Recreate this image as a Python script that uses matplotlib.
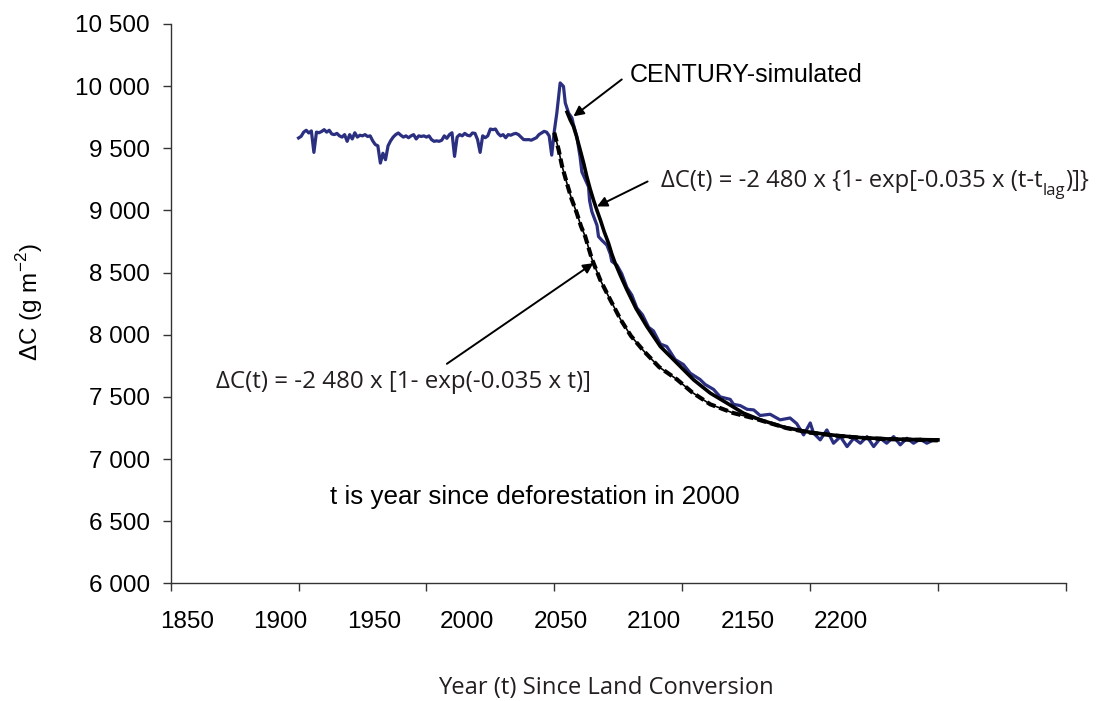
import numpy as np
import matplotlib
matplotlib.use("Agg")
import matplotlib.pyplot as plt
from matplotlib.ticker import MultipleLocator, FuncFormatter

# --------------------------------------------------
# data
# --------------------------------------------------
# CENTURY-simulated carbon, 1900-1999 (annual, pre-conversion)
pre_years = list(range(1900, 2000))
pre_vals = [9583, 9596, 9630, 9645, 9623, 9640, 9467, 9630, 9625, 9635,
            9650, 9630, 9645, 9615, 9610, 9620, 9600, 9590, 9610, 9556,
            9610, 9575, 9625, 9590, 9605, 9600, 9610, 9595, 9600, 9560,
            9530, 9520, 9381, 9460, 9408, 9520, 9560, 9590, 9610, 9623,
            9605, 9590, 9600, 9585, 9600, 9610, 9575, 9600, 9595, 9600,
            9590, 9600, 9570, 9556, 9560, 9556, 9565, 9600, 9580, 9610,
            9625, 9435, 9590, 9610, 9600, 9620, 9605, 9600, 9623, 9620,
            9570, 9467, 9600, 9585, 9600, 9655, 9650, 9655, 9620, 9600,
            9610, 9585, 9610, 9605, 9615, 9620, 9610, 9590, 9570, 9569,
            9570, 9565, 9575, 9585, 9610, 9623, 9636, 9630, 9600, 9445]
# CENTURY-simulated carbon after conversion
post_years = [2000, 2001, 2002.3, 2003.6, 2004.3, 2005.6, 2006.9, 2007.5, 2008.8, 2010.1,
              2010.8, 2012.1, 2013.4, 2013.8, 2014.7, 2016.7, 2017.3, 2018.6, 2020.6, 2021.9,
              2022.5, 2024.5, 2026.4, 2028.4, 2030.3, 2032.3, 2034.5, 2036.9, 2038.8, 2041.5,
              2044.0, 2047.3, 2050.5, 2053.2, 2057.0, 2059.0, 2062.3, 2064.9, 2068.8, 2070.1,
              2072.7, 2075.4, 2078.0, 2080.5, 2084.4, 2088.3, 2092.2, 2094.8, 2097.5, 2100.1,
              2101.4, 2104.0, 2106.6, 2109.2, 2111.9, 2114.5, 2117.1, 2119.7, 2122.3, 2124.9,
              2127.5, 2130.0, 2132.7, 2135.3, 2137.9, 2140.5, 2143.1, 2145.7, 2148.3, 2150.0]
post_vals = [9636, 9784, 10026, 9998, 9865, 9784, 9744, 9690, 9596, 9430,
             9310, 9250, 9190, 9080, 8990, 8880, 8790, 8760, 8720, 8650,
             8590, 8560, 8490, 8380, 8320, 8215, 8160, 8060, 8030, 7925,
             7905, 7800, 7760, 7690, 7640, 7600, 7560, 7500, 7480, 7440,
             7430, 7400, 7395, 7350, 7360, 7315, 7330, 7285, 7194, 7290,
             7208, 7154, 7234, 7127, 7180, 7100, 7167, 7127, 7180, 7100,
             7167, 7127, 7180, 7114, 7167, 7127, 7160, 7127, 7154, 7154]

# fitted curve with lag (solid black)
lag_years = [2005, 2006.2, 2007.5, 2008.7, 2010.1, 2011.5, 2012.7, 2014, 2015.3, 2016.7,
             2018, 2019.5, 2021.2, 2022.5, 2023.8, 2026, 2028.4, 2032, 2036.2, 2041.5,
             2048, 2054.5, 2061, 2067.6, 2074, 2080.6, 2090, 2100, 2110, 2120,
             2130, 2140, 2150]
lag_vals = [9790, 9730, 9676, 9596, 9489, 9380, 9274, 9175, 9086, 9000,
            8925, 8830, 8737, 8650, 8576, 8470, 8361, 8210, 8066, 7905,
            7771, 7637, 7530, 7449, 7369, 7315, 7255, 7215, 7190, 7172,
            7162, 7157, 7154]

# fitted curve without lag (dashed black)
nolag_years = [2000, 2001.7, 2003, 2004.9, 2006.8, 2008.8, 2010.5, 2012.1, 2014.7, 2018,
               2021.9, 2026, 2030, 2034.9, 2041, 2048, 2054, 2061, 2065, 2070,
               2078, 2085, 2091, 2100, 2110, 2120, 2130, 2140, 2150]
nolag_vals = [9625, 9489, 9360, 9221, 9090, 8979, 8870, 8791, 8610, 8440,
              8281, 8120, 7990, 7871, 7740, 7640, 7535, 7440, 7409, 7370,
              7328, 7285, 7248, 7212, 7188, 7170, 7160, 7155, 7150]

xtick_vals = list(range(1850, 2201, 50))

# --------------------------------------------------
# plot
# --------------------------------------------------
W, H = 1096, 701
fig = plt.figure(figsize=(W/100, H/100), dpi=100)
ax = fig.add_axes([170.7/W, 1 - 583.3/H, (1065.7 - 170.7)/W, (583.3 - 24)/H])

blue = '#2b2f80'
txt = '#231f20'
arial = 'Liberation Sans'
myriad = 'Open Sans'

ax.plot(pre_years + post_years, pre_vals + post_vals, color=blue, lw=2.3, zorder=2)
ax.plot(nolag_years, nolag_vals, color='black', lw=1.2, zorder=3)
ax.plot(nolag_years, nolag_vals, color='black', lw=3.0, ls=(0, (2.2, 1.0)), zorder=3)
ax.plot(lag_years, lag_vals, color='black', lw=2.6, zorder=4)

ax.set_xlim(1850, 2200)
ax.set_ylim(6000, 10500)
ax.set_xticks(xtick_vals)
ax.set_xticklabels([])
ax.yaxis.set_major_locator(MultipleLocator(500))
ax.yaxis.set_major_formatter(FuncFormatter(lambda v, p: f"{int(v):,}".replace(",", " ")))
ax.tick_params(axis='both', direction='out', length=6, width=1, color='#333333')
ax.tick_params(axis='y', pad=9, labelsize=17.5)
for lab in ax.get_yticklabels():
    lab.set_fontfamily(arial)
for s in ['top', 'right']:
    ax.spines[s].set_visible(False)
for s in ['left', 'bottom']:
    ax.spines[s].set_color('#333333')
    ax.spines[s].set_linewidth(1)

# tick labels of the year axis sit offset from the tick marks in the original
lax = fig.add_axes([187/W, 1 - 583.3/H, (841 - 187)/W, 0.001])
lax.set_xlim(1850, 2200)
lax.set_xticks(xtick_vals)
lax.set_yticks([])
lax.tick_params(axis='x', length=0, pad=20, labelsize=17.5)
for lab in lax.get_xticklabels():
    lab.set_fontfamily(arial)
for s in lax.spines.values():
    s.set_visible(False)
lax.patch.set_visible(False)

# annotations
arrow = dict(arrowstyle='-|>', color='black', lw=1.4, mutation_scale=15, shrinkA=0, shrinkB=0)
ax.annotate('', xy=(2007.5, 9757), xytext=(2026.4, 10054), arrowprops=arrow)
ax.annotate('', xy=(2016.7, 9032), xytext=(2036.5, 9233), arrowprops=arrow)
ax.annotate('', xy=(2015.3, 8576), xytext=(1958, 7766), arrowprops=arrow)

ax.text(2029.6, 10093, 'CENTURY-simulated', fontsize=18, family=arial, va='center', ha='left')
ax.text(1912.3, 6695, 't is year since deforestation in 2000', fontsize=18.7, family=arial,
        va='center', ha='left')

ax.text(1867.7, 7623, 'ΔC(t) = -2 480 x [1- exp(-0.035 x t)]', fontsize=17.4, family=myriad,
        color=txt, va='center', ha='left')
t1 = ax.text(2041.9, 9233, 'ΔC(t) = -2 480 x {1- exp[-0.035 x (t-t', fontsize=17.2,
             family=myriad, color=txt, va='center', ha='left')
t2 = ax.annotate('lag', xy=(1, 0.1), xycoords=t1, fontsize=12, family=myriad,
                 color=txt, va='center', ha='left')
ax.annotate(')]}', xy=(1, 0), xycoords=(t2, t1), fontsize=17.2, family=myriad,
            color=txt, va='bottom', ha='left')

fig.text(606/W, 1 - 688/H, 'Year (t) Since Land Conversion', fontsize=17.1, family=myriad,
         color=txt, ha='center', va='center')
fig.text(30/W, 1 - 302/H, 'ΔC (g m$^{\\mathregular{-2}}$)', fontsize=17.5, family=arial,
         rotation=90, ha='center', va='center')

fig.savefig('out.png', dpi=100)
